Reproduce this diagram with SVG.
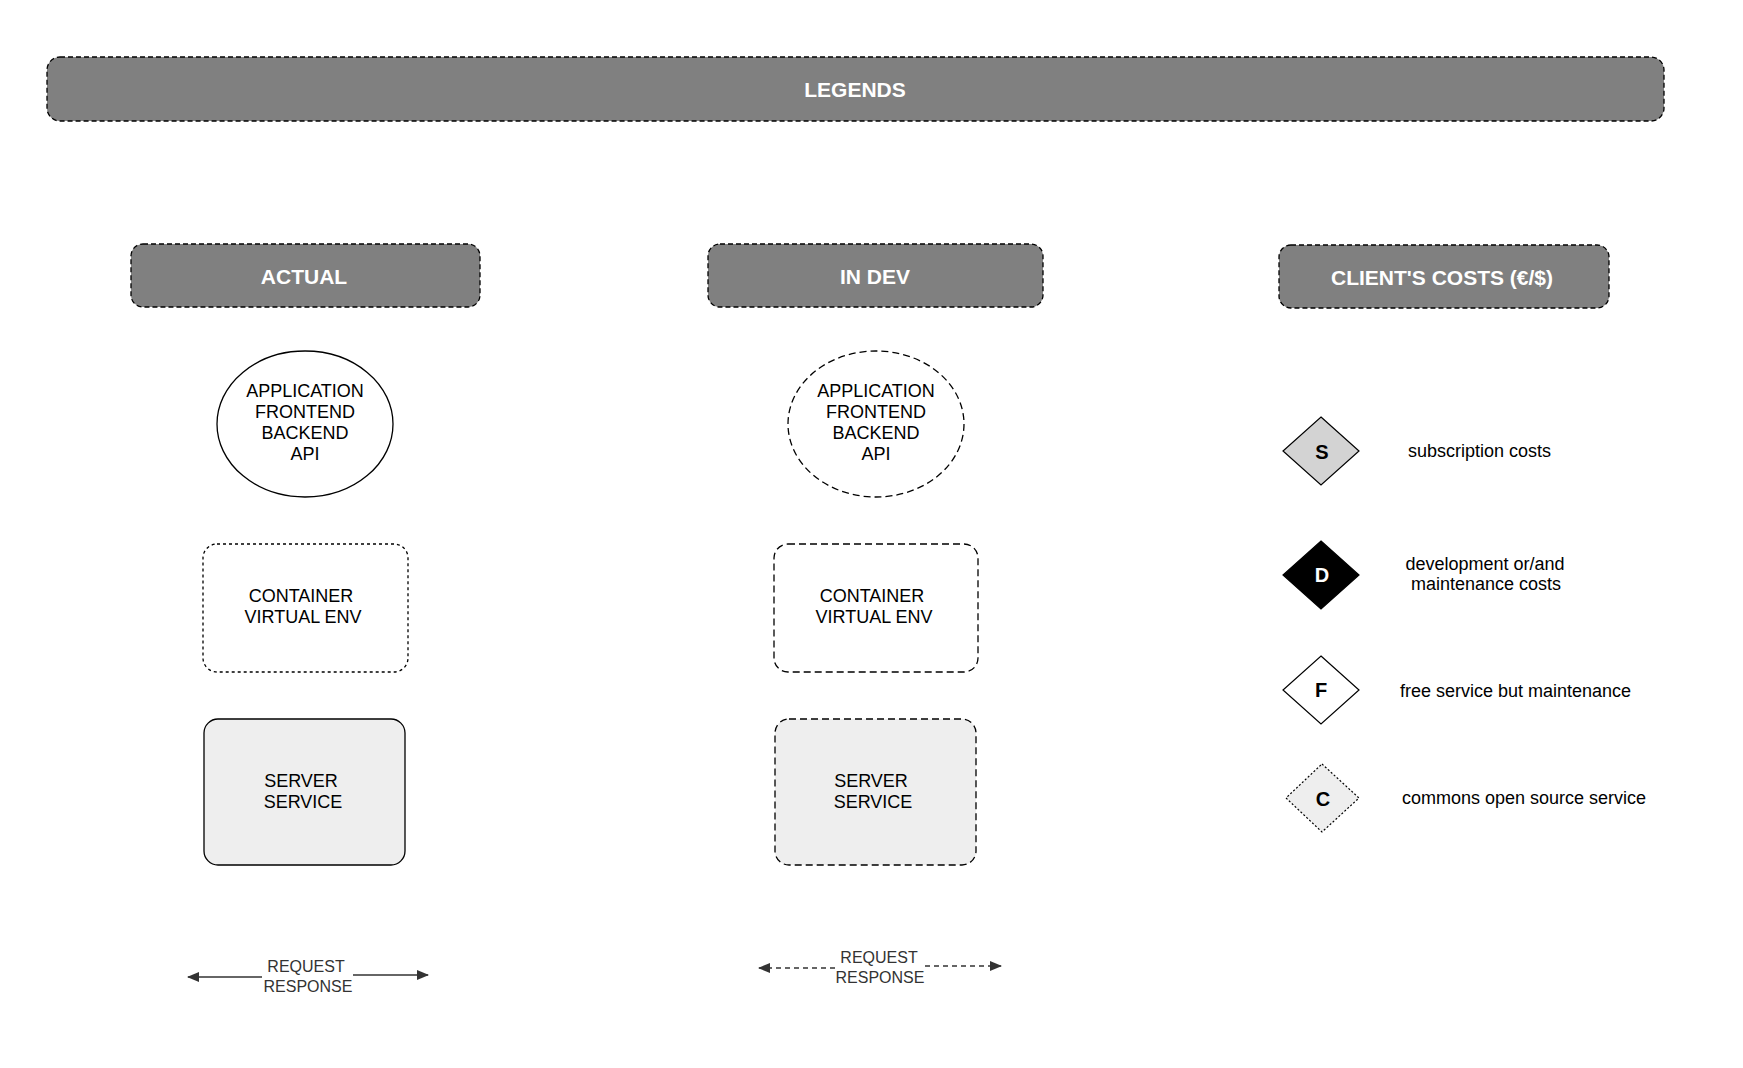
<svg xmlns="http://www.w3.org/2000/svg" width="1743" height="1068" viewBox="0 0 1743 1068">
<style>
.hdr{fill:#808080;stroke:#000;stroke-width:1.3;stroke-dasharray:5,3}
.ht{font-family:"Liberation Sans",Arial,sans-serif;font-weight:bold;font-size:21px;fill:#fff;text-anchor:middle}
.t{font-family:"Liberation Sans",Arial,sans-serif;font-size:18px;fill:#000;text-anchor:middle}
.tl{font-family:"Liberation Sans",Arial,sans-serif;font-size:18px;fill:#000}
.dt{font-family:"Liberation Sans",Arial,sans-serif;font-weight:bold;font-size:20px;text-anchor:middle}
.rt{font-family:"Liberation Sans",Arial,sans-serif;font-size:16px;fill:#333;text-anchor:middle}
.ln{stroke:#333;stroke-width:1.5;fill:none}
</style>
<defs>
<marker id="ah" viewBox="0 0 12 10" refX="11" refY="5" markerWidth="12" markerHeight="10" markerUnits="userSpaceOnUse" orient="auto">
<path d="M0,0 L12,5 L0,10 Z" fill="#333"/>
</marker>
</defs>
<rect width="1743" height="1068" fill="#fff"/>
<g id="legends">
<rect class="hdr" x="47" y="57" width="1617" height="64" rx="13"/>
<text class="ht" x="855" y="97">LEGENDS</text>
</g>
<g id="actual">
<rect class="hdr" x="131" y="244" width="349" height="63" rx="12"/>
<text class="ht" x="304" y="284">ACTUAL</text>
</g>
<g id="indev">
<rect class="hdr" x="708" y="244" width="335" height="63" rx="12"/>
<text class="ht" x="875" y="284">IN DEV</text>
</g>
<g id="clientcosts">
<rect class="hdr" x="1279" y="245" width="330" height="63" rx="12"/>
<text class="ht" x="1442" y="285">CLIENT'S COSTS (€/$)</text>
</g>
<g id="app-actual">
<ellipse cx="305" cy="424" rx="88" ry="73" fill="#fff" stroke="#000" stroke-width="1.3"/>
<text class="t" x="305" y="397">APPLICATION</text>
<text class="t" x="305" y="418">FRONTEND</text>
<text class="t" x="305" y="439">BACKEND</text>
<text class="t" x="305" y="460">API</text>
</g>
<g id="app-dev">
<ellipse cx="876" cy="424" rx="88" ry="73" fill="#fff" stroke="#000" stroke-width="1.3" stroke-dasharray="7,4"/>
<text class="t" x="876" y="397">APPLICATION</text>
<text class="t" x="876" y="418">FRONTEND</text>
<text class="t" x="876" y="439">BACKEND</text>
<text class="t" x="876" y="460">API</text>
</g>
<g id="container-actual">
<rect x="203" y="544" width="205" height="128" rx="14" fill="#fff" stroke="#000" stroke-width="1.3" stroke-dasharray="3,3"/>
<text class="t" x="301" y="602">CONTAINER</text>
<text class="t" x="303" y="623">VIRTUAL ENV</text>
</g>
<g id="container-dev">
<rect x="774" y="544" width="204" height="128" rx="14" fill="#fff" stroke="#000" stroke-width="1.3" stroke-dasharray="7,4"/>
<text class="t" x="872" y="602">CONTAINER</text>
<text class="t" x="874" y="623">VIRTUAL ENV</text>
</g>
<g id="server-actual">
<rect x="204" y="719" width="201" height="146" rx="14" fill="#eeeeee" stroke="#000" stroke-width="1.3"/>
<text class="t" x="301" y="787">SERVER</text>
<text class="t" x="303" y="808">SERVICE</text>
</g>
<g id="server-dev">
<rect x="775" y="719" width="201" height="146" rx="14" fill="#eeeeee" stroke="#000" stroke-width="1.3" stroke-dasharray="7,4"/>
<text class="t" x="871" y="787">SERVER</text>
<text class="t" x="873" y="808">SERVICE</text>
</g>
<g id="cost-s">
<polygon points="1321,417 1359,451 1321,485 1283,451" fill="#d3d3d3" stroke="#000" stroke-width="1.2"/>
<text class="dt" x="1322" y="459" fill="#000">S</text>
<text class="tl" x="1408" y="457">subscription costs</text>
</g>
<g id="cost-d">
<polygon points="1321,541 1359,575 1321,609 1283,575" fill="#000" stroke="#000" stroke-width="1.2"/>
<text class="dt" x="1322" y="582" fill="#fff">D</text>
<text class="t" x="1485" y="570">development or/and</text>
<text class="t" x="1486" y="590">maintenance costs</text>
</g>
<g id="cost-f">
<polygon points="1321,656 1359,690 1321,724 1283,690" fill="#fff" stroke="#000" stroke-width="1.2"/>
<text class="dt" x="1321" y="697" fill="#000">F</text>
<text class="tl" x="1400" y="697">free service but maintenance</text>
</g>
<g id="cost-c">
<polygon points="1322,764 1359,798 1322,832 1286,798" fill="#eeeeee" stroke="#000" stroke-width="1.2" stroke-dasharray="2,2"/>
<text class="dt" x="1323" y="806" fill="#000">C</text>
<text class="tl" x="1402" y="804">commons open source service</text>
</g>
<g id="connectors">
<path class="ln" d="M262,977 L188,977" marker-end="url(#ah)"/>
<path class="ln" d="M353,975 L428,975" marker-end="url(#ah)"/>
<path class="ln" d="M835,968 L759,968" stroke-dasharray="5,4" marker-end="url(#ah)"/>
<path class="ln" d="M925,966 L1001,966" stroke-dasharray="5,4" marker-end="url(#ah)"/>
</g>
<g id="labels">
<text class="rt" x="306" y="972">REQUEST</text>
<text class="rt" x="308" y="992">RESPONSE</text>
<text class="rt" x="879" y="963">REQUEST</text>
<text class="rt" x="880" y="983">RESPONSE</text>
</g>
</svg>
